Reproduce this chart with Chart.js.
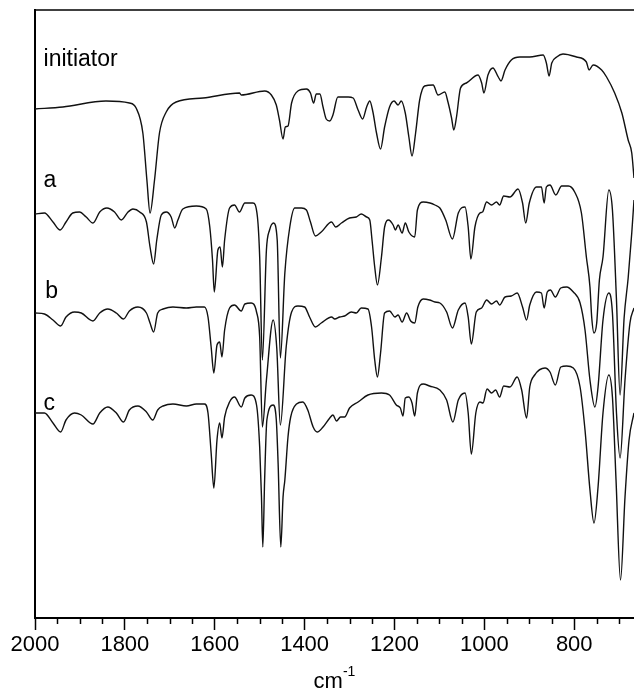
<!DOCTYPE html>
<html>
<head>
<meta charset="utf-8">
<script src="https://cdn.jsdelivr.net/npm/chart.js@4.4.1/dist/chart.umd.min.js"></script>
<style>
  html, body { margin: 0; padding: 0; background: #fff; overflow: hidden; }
  canvas { display: block; }
</style>
</head>
<body>
<canvas id="ir" width="634" height="697"></canvas>
<script>
// IR spectra: wavenumber (cm-1) and offset transmittance (arb. units)
const initWn = [2000,1938,1842,1790,1775,1760,1751,1744,1734,1723,1708,1686,1626,1545,1541,1489,1474,1463,1456,1448,1443,1437,1429,1415,1396,1387,1380,1374,1366,1359,1352,1344,1337,1326,1303,1292,1281,1271,1262,1255,1248,1240,1231,1222,1211,1201,1192,1185,1176,1168,1161,1153,1144,1133,1114,1103,1088,1081,1073,1068,1062,1053,1040,1014,1006,1001,992,981,969,963,954,940,921,899,869,862,856,850,839,825,795,773,767,758,739,728,710,694,680,672,667]
const initT = [509,511,517,515,510,485,438,405,438,485,506,516,520,525,523,527,523,513,498,479,491,492,515,527,529,525,515,524,524,511,499,497,503,521,521,520,508,499,511,517,506,485,469,491,511,517,513,517,505,481,462,485,518,532,533,523,526,516,500,488,501,530,535,543,535,525,543,550,541,537,548,558,561,561,563,555,542,555,561,564,561,556,548,553,548,541,525,505,478,465,440]

const aWn = [2000,1979,1960,1944,1931,1916,1901,1886,1871,1856,1840,1823,1808,1793,1782,1767,1752,1744,1736,1729,1719,1708,1697,1689,1682,1671,1641,1619,1611,1605,1601,1593,1588,1583,1578,1567,1556,1545,1533,1515,1505,1500,1494,1485,1478,1469,1461,1454,1444,1433,1422,1407,1396,1387,1376,1363,1340,1331,1318,1300,1285,1274,1262,1255,1250,1244,1238,1229,1222,1213,1203,1198,1192,1183,1176,1168,1155,1149,1136,1121,1110,1099,1086,1071,1058,1043,1036,1030,1021,1010,1004,995,984,973,966,957,943,925,915,908,900,884,873,867,862,854,841,828,813,799,784,773,765,761,756,750,744,736,723,715,706,698,689,680,672,667]
const aT = [404,405,396,388,396,405,406,401,395,406,410,406,398,406,409,406,396,371,354,378,403,406,401,390,398,409,412,409,391,358,326,368,371,351,378,410,413,406,415,415,401,361,258,368,388,395,378,260,345,391,410,410,408,396,382,386,396,391,395,400,401,404,401,398,378,351,333,361,391,398,393,388,393,385,395,386,381,408,416,415,413,410,398,379,405,411,391,359,391,405,406,416,413,416,413,422,421,429,415,395,415,431,431,415,431,433,423,432,432,426,405,361,331,300,285,295,338,361,428,408,318,223,300,340,385,418]

const bWn = [2000,1979,1960,1943,1931,1912,1897,1871,1856,1838,1819,1803,1790,1771,1752,1744,1736,1727,1715,1693,1663,1641,1623,1615,1608,1602,1595,1589,1584,1578,1567,1556,1541,1533,1519,1507,1500,1494,1485,1470,1462,1454,1441,1429,1415,1400,1389,1376,1363,1340,1333,1322,1311,1296,1285,1274,1259,1251,1244,1238,1231,1222,1211,1199,1192,1183,1173,1164,1155,1148,1136,1122,1110,1099,1084,1071,1058,1043,1036,1029,1018,1006,995,984,973,966,954,940,927,915,906,899,884,873,867,860,853,842,830,817,802,787,776,765,754,747,736,723,715,706,698,687,676,667]
const bT = [305,304,298,292,301,306,305,297,305,309,305,299,307,311,305,295,286,305,309,311,310,311,311,301,271,245,273,276,261,288,310,313,307,314,315,306,281,191,238,298,270,193,271,306,312,311,301,291,295,301,299,301,302,306,305,310,309,291,258,241,265,305,307,301,303,296,305,297,295,311,319,318,316,315,306,290,308,315,301,274,306,310,318,314,317,313,321,322,325,311,298,313,326,325,310,326,328,321,330,331,326,315,288,238,211,231,298,325,305,205,160,238,295,310]

const cWn = [2000,1979,1960,1943,1931,1912,1897,1871,1856,1838,1819,1803,1790,1771,1752,1738,1727,1715,1693,1663,1641,1623,1615,1608,1602,1595,1589,1584,1578,1567,1556,1541,1533,1519,1507,1500,1496,1493,1489,1484,1470,1463,1459,1453,1448,1444,1437,1431,1418,1404,1393,1381,1372,1359,1344,1337,1329,1320,1311,1300,1281,1259,1229,1211,1196,1187,1181,1176,1168,1161,1155,1149,1136,1122,1099,1084,1070,1058,1043,1036,1029,1019,1010,1003,994,984,975,966,957,943,927,917,906,899,888,865,854,842,830,817,802,787,776,765,756,747,736,723,715,707,697,687,678,667]
const cT = [205,205,195,186,198,205,203,194,205,211,205,196,208,212,206,198,208,212,214,212,214,214,205,165,130,178,195,180,201,216,221,211,220,223,213,171,121,71,138,198,213,198,155,71,121,138,181,201,214,216,208,191,186,191,200,203,197,201,201,210,216,223,225,223,213,210,202,220,221,215,202,225,234,232,228,218,196,218,225,205,164,205,216,215,229,225,228,221,232,231,241,228,200,231,243,250,246,233,251,252,250,231,188,128,95,131,205,243,221,138,38,121,178,205]

const majorTicks = [2000, 1800, 1600, 1400, 1200, 1000, 800]
const minorTicks = [1950, 1900, 1850, 1750, 1700, 1650, 1550, 1500, 1450, 1350, 1300, 1250, 1150, 1100, 1050, 950, 900, 850, 750, 700]

const traceNames = ['initiator', 'a', 'b', 'c']
const nameWn = [1981, 1981, 1977, 1981]
const nameT = [552, 431, 320, 208]

const FONT = '"Liberation Sans", Arial, Helvetica, sans-serif'

function pts(wn, t) {
  return wn.map((w, i) => ({ x: w, y: t[i] }))
}

function trace(label, wn, t) {
  return {
    label: label,
    data: pts(wn, t),
    borderColor: '#111',
    borderWidth: 1.4,
    pointRadius: 0,
    fill: false,
    cubicInterpolationMode: 'monotone'
  }
}

const extras = {
  id: 'extras',
  afterDraw(chart) {
    const ctx = chart.ctx
    const a = chart.chartArea
    const x = chart.scales.x
    const y = chart.scales.y
    ctx.save()
    ctx.strokeStyle = '#000'
    ctx.lineWidth = 1.5
    // top frame
    ctx.beginPath()
    ctx.moveTo(a.left, a.top)
    ctx.lineTo(a.right, a.top)
    ctx.stroke()
    // minor ticks
    minorTicks.forEach(v => {
      const px = Math.round(x.getPixelForValue(v)) + 0.5
      ctx.beginPath()
      ctx.moveTo(px, a.bottom)
      ctx.lineTo(px, a.bottom + 6)
      ctx.stroke()
    })
    // axis title cm-1
    ctx.fillStyle = '#000'
    ctx.textBaseline = 'alphabetic'
    ctx.textAlign = 'left'
    ctx.font = '22px ' + FONT
    const w1 = ctx.measureText('cm').width
    ctx.font = '14px ' + FONT
    const w2 = ctx.measureText('-1').width
    const sx = (a.left + a.right) / 2 - (w1 + w2) / 2
    ctx.font = '22px ' + FONT
    ctx.fillText('cm', sx, 688)
    ctx.font = '14px ' + FONT
    ctx.fillText('-1', sx + w1, 676)
    // trace names
    ctx.font = '23px ' + FONT
    traceNames.forEach((s, i) => {
      ctx.fillText(s, x.getPixelForValue(nameWn[i]), y.getPixelForValue(nameT[i]))
    })
    ctx.restore()
  }
}

new Chart(document.getElementById('ir'), {
  type: 'line',
  data: {
    datasets: [
      trace('initiator', initWn, initT),
      trace('a', aWn, aT),
      trace('b', bWn, bT),
      trace('c', cWn, cT)
    ]
  },
  options: {
    responsive: false,
    animation: false,
    devicePixelRatio: 1,
    layout: { padding: { left: 35, top: 10, right: 0, bottom: 0 } },
    plugins: { legend: { display: false }, tooltip: { enabled: false } },
    scales: {
      x: {
        type: 'linear',
        position: 'bottom',
        reverse: true,
        min: 667,
        max: 2000,
        afterFit: s => { s.height = 79 },
        afterBuildTicks: s => { s.ticks = majorTicks.map(v => ({ value: v })) },
        ticks: {
          color: '#000',
          font: { family: FONT, size: 22 },
          padding: 2,
          maxRotation: 0,
          autoSkip: false,
          includeBounds: false,
          callback: v => String(v)
        },
        grid: {
          display: true,
          drawOnChartArea: false,
          tickLength: 12,
          tickWidth: 1.5,
          tickColor: '#000'
        },
        border: { display: true, color: '#000', width: 2 }
      },
      y: {
        type: 'linear',
        min: 0,
        max: 608,
        afterFit: s => { s.width = 0 },
        ticks: { display: false },
        grid: { display: false },
        border: { display: true, color: '#000', width: 2 }
      }
    }
  },
  plugins: [extras]
})
</script>
</body>
</html>
